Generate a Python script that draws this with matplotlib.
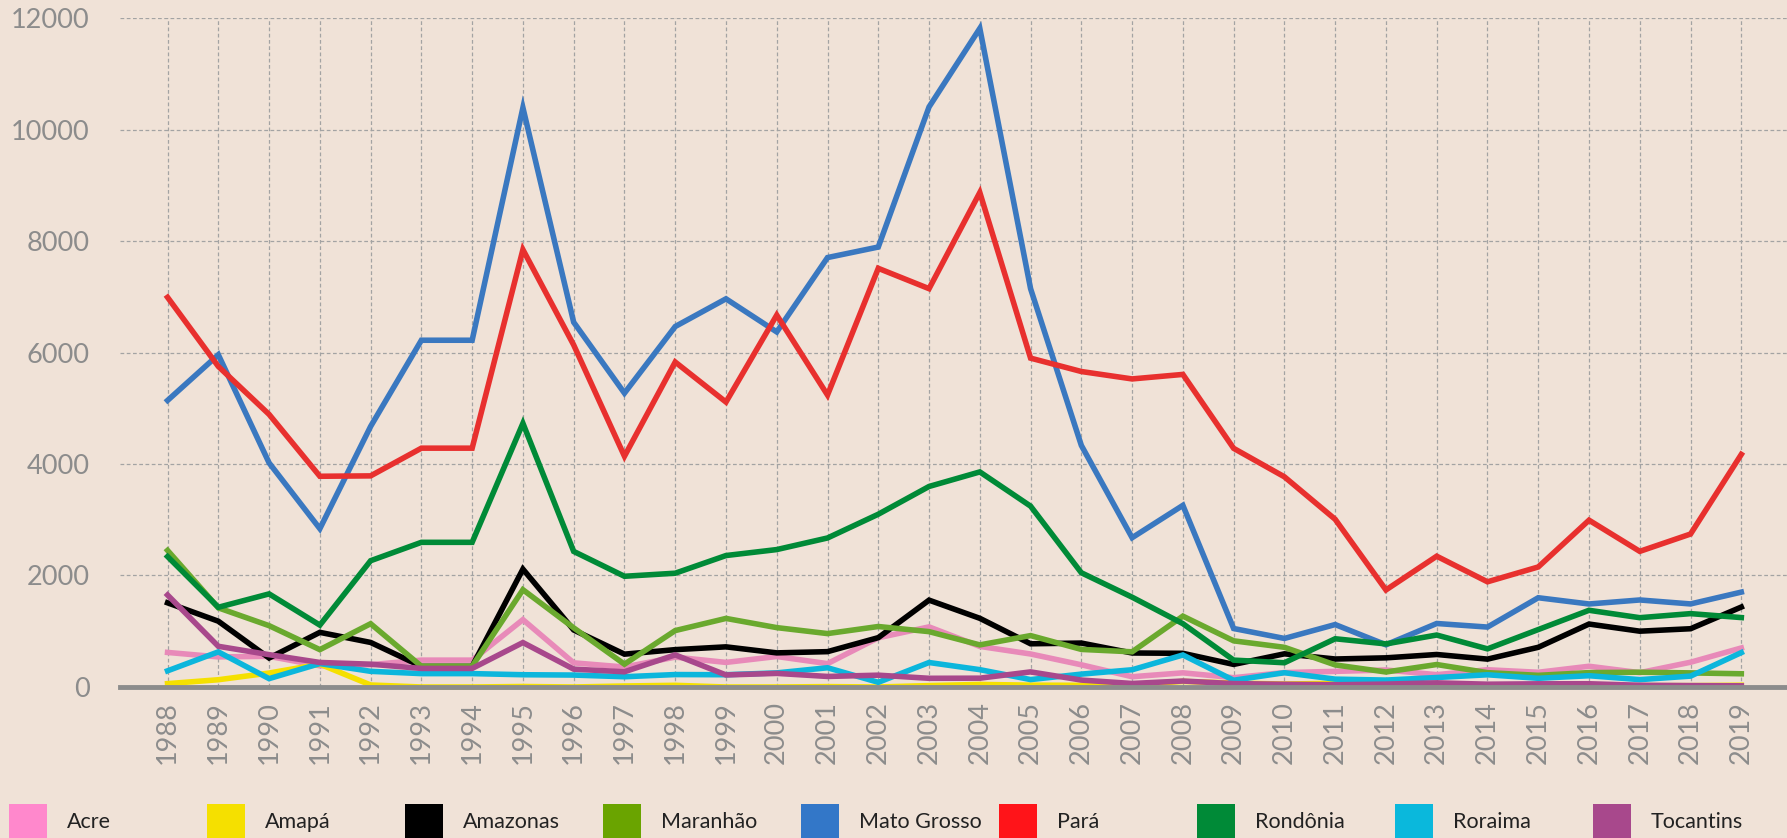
import numpy as np
import matplotlib
matplotlib.use("Agg")
import matplotlib.pyplot as plt
from matplotlib.patches import Rectangle

plt.rcParams['font.family'] = ['Lato', 'DejaVu Sans']

years = list(range(1988, 2020))

# desmatamento anual por estado (km2)
acre = [620, 540, 550, 380, 400, 482, 482, 1208, 433, 358, 536, 441, 547, 419, 883, 1078,
        728, 592, 398, 184, 254, 167, 259, 280, 305, 221, 309, 264, 372, 257, 444, 700]
amapa = [60, 130, 250, 410, 36, 0, 0, 9, 0, 18, 30, 0, 0, 7, 0, 25,
         46, 33, 30, 39, 100, 70, 53, 66, 27, 23, 31, 25, 17, 24, 24, 32]
amazonas = [1510, 1180, 520, 980, 799, 370, 370, 2114, 1023, 589, 670, 720, 612, 634, 885, 1558,
            1232, 775, 788, 610, 604, 405, 595, 502, 523, 583, 500, 712, 1129, 1001, 1045, 1434]
maranhao = [2450, 1420, 1100, 670, 1135, 372, 372, 1745, 1061, 409, 1012, 1230, 1065, 958, 1085, 993,
            755, 922, 674, 631, 1271, 828, 712, 396, 269, 403, 257, 209, 258, 265, 253, 237]
mato_grosso = [5140, 5960, 4020, 2840, 4674, 6220, 6220, 10391, 6543, 5271, 6466, 6963, 6369, 7703, 7892, 10405,
               11814, 7145, 4333, 2678, 3258, 1049, 871, 1120, 757, 1139, 1075, 1601, 1489, 1561, 1490, 1702]
para = [6990, 5750, 4890, 3780, 3787, 4284, 4284, 7845, 6135, 4139, 5829, 5111, 6671, 5237, 7510, 7145,
        8870, 5899, 5659, 5526, 5607, 4281, 3770, 3008, 1741, 2346, 1887, 2153, 2992, 2433, 2744, 4172]
rondonia = [2340, 1430, 1670, 1110, 2265, 2595, 2595, 4730, 2432, 1986, 2041, 2358, 2465, 2673, 3099, 3597,
            3858, 3244, 2049, 1611, 1136, 482, 435, 865, 773, 932, 684, 1030, 1376, 1243, 1316, 1245]
roraima = [290, 630, 150, 420, 281, 240, 240, 220, 214, 184, 223, 220, 253, 345, 84, 439,
           311, 133, 231, 309, 574, 121, 256, 141, 124, 170, 219, 156, 202, 132, 195, 617]
tocantins = [1650, 730, 580, 440, 409, 333, 333, 797, 320, 273, 576, 216, 244, 189, 212, 156,
             158, 271, 124, 63, 107, 61, 49, 40, 52, 74, 50, 57, 58, 31, 25, 21]

states = ['Acre', 'Amapá', 'Amazonas', 'Maranhão', 'Mato Grosso',
          'Pará', 'Rondônia', 'Roraima', 'Tocantins']
series = [acre, amapa, amazonas, maranhao, mato_grosso, para, rondonia, roraima, tocantins]
line_colors = ['#e88ab9', '#f5e000', '#000000', '#6aa92e', '#3a78c0',
               '#e8302e', '#008a37', '#0cb6dc', '#a8488c']
key_colors = ['#ff88cc', '#f5e000', '#000000', '#6aa400', '#3377c8',
              '#ff1419', '#008a37', '#0ab8dc', '#a8488c']

bg = '#f0e2d7'
fig = plt.figure(figsize=(17.87, 8.38), dpi=100, facecolor=bg)
ax = fig.add_axes([0.0672, 0.1802, 0.9328, 0.7983], facecolor=bg)

for vals, c in zip(series, line_colors):
    ax.plot(years, vals, color=c, lw=4.0, solid_joinstyle='miter', clip_on=False, zorder=3)

ax.set_xlim(1987.065, 2019.9)
ax.set_ylim(0, 12000)

# grade tracejada
for y in range(2000, 12001, 2000):
    ax.axhline(y, color='#a3a3a3', lw=0.9, ls=(0, (3, 2)), zorder=1)
for yr in years:
    ax.plot([yr, yr], [0, 12000], color='#a3a3a3', lw=0.9, ls=(0, (3, 2)), zorder=1)
ax.axhline(0, color='#8c8c8c', lw=3.5, zorder=5, clip_on=False)

for s in ax.spines.values():
    s.set_visible(False)

ax.set_xticks(years)
ax.set_xticklabels([str(y) for y in years], rotation=90)
ax.set_yticks(range(0, 12001, 2000))
ax.tick_params(length=0, colors='#8c8c8c', labelsize=19.5)
ax.tick_params(axis='y', pad=22)
ax.tick_params(axis='x', pad=10)

# legenda manual
x0 = 9
step = 198
for i, (name, c) in enumerate(zip(states, key_colors)):
    xl = x0 + i * step
    fig.patches.append(Rectangle((xl / 1787, 0), 38 / 1787, 34 / 838,
                                 transform=fig.transFigure, color=c, lw=0))
    fig.text((xl + 58) / 1787, 16 / 838, name, fontsize=15.5, color='#222222',
             va='center', ha='left')

fig.savefig('out.png', dpi=100, facecolor=bg)
